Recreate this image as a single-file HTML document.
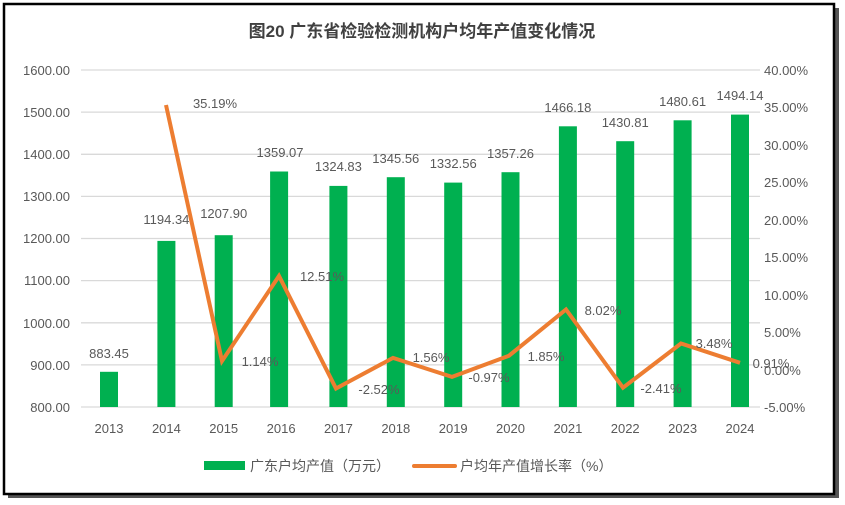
<!DOCTYPE html>
<html><head><meta charset="utf-8"><style>
body{margin:0;background:#fff;}
svg{display:block;font-family:"Liberation Sans","Noto Sans CJK SC",sans-serif;}
</style></head><body>
<svg width="845" height="505" xmlns="http://www.w3.org/2000/svg">
<rect x="0" y="0" width="845" height="505" fill="#fff"/>
<rect x="8" y="8" width="831" height="490" fill="#555"/>
<rect x="4" y="4" width="830" height="490" fill="#fff" stroke="#000" stroke-width="2.5"/>
<text x="422" y="37" font-size="17" font-weight="bold" text-anchor="middle" fill="#404040" font-family="'Liberation Sans','Noto Sans CJK SC',sans-serif">图20 广东省检验检测机构户均年产值变化情况</text>
<g stroke="#d9d9d9" stroke-width="1.3">
<line x1="81" x2="760" y1="70" y2="70"/><line x1="81" x2="760" y1="112.1" y2="112.1"/><line x1="81" x2="760" y1="154.3" y2="154.3"/><line x1="81" x2="760" y1="196.4" y2="196.4"/><line x1="81" x2="760" y1="238.5" y2="238.5"/><line x1="81" x2="760" y1="280.6" y2="280.6"/><line x1="81" x2="760" y1="322.8" y2="322.8"/><line x1="81" x2="760" y1="364.9" y2="364.9"/><line x1="81" x2="760" y1="407" y2="407"/>
</g>
<g font-size="13" fill="#595959" text-anchor="end">
<text x="70" y="75">1600.00</text><text x="70" y="117">1500.00</text><text x="70" y="159">1400.00</text><text x="70" y="201">1300.00</text><text x="70" y="243">1200.00</text><text x="70" y="285">1100.00</text><text x="70" y="328">1000.00</text><text x="70" y="370">900.00</text><text x="70" y="412">800.00</text>
</g>
<g font-size="13" fill="#595959">
<text x="764" y="75">40.00%</text><text x="764" y="112">35.00%</text><text x="764" y="150">30.00%</text><text x="764" y="187">25.00%</text><text x="764" y="225">20.00%</text><text x="764" y="262">15.00%</text><text x="764" y="300">10.00%</text><text x="764" y="337">5.00%</text><text x="764" y="375">0.00%</text><text x="764" y="412">-5.00%</text>
</g>
<g fill="#00B050">
<rect x="100" y="371.8" width="18" height="35.2"/><rect x="157.4" y="240.9" width="18" height="166.1"/><rect x="214.7" y="235.2" width="18" height="171.8"/><rect x="270.1" y="171.5" width="18" height="235.5"/><rect x="329.4" y="185.9" width="18" height="221.1"/><rect x="386.8" y="177.2" width="18" height="229.8"/><rect x="444.2" y="182.6" width="18" height="224.4"/><rect x="501.5" y="172.2" width="18" height="234.8"/><rect x="558.9" y="126.3" width="18" height="280.7"/><rect x="616.2" y="141.2" width="18" height="265.8"/><rect x="673.6" y="120.3" width="18" height="286.7"/><rect x="731" y="114.6" width="18" height="292.4"/>
</g>
<g font-size="13" fill="#595959" text-anchor="middle">
<text x="109" y="358">883.45</text><text x="166.4" y="224">1194.34</text><text x="223.7" y="218">1207.90</text><text x="280" y="157">1359.07</text><text x="338.4" y="171">1324.83</text><text x="395.8" y="163">1345.56</text><text x="453.2" y="168">1332.56</text><text x="510.5" y="158">1357.26</text><text x="567.9" y="112">1466.18</text><text x="625.2" y="127">1430.81</text><text x="682.6" y="106">1480.61</text><text x="740" y="100">1494.14</text>
</g>
<polyline fill="none" stroke="#ED7D31" stroke-width="4" stroke-linejoin="miter" points="166,105 222,361 279,276 336,388.5 393,357.9 452,376.9 509,355.7 566,309.5 623,387.7 681,343.5 740,362.8"/>
<g font-size="13" fill="#595959" text-anchor="middle">
<text x="215" y="108">35.19%</text><text x="260" y="366">1.14%</text><text x="322" y="281">12.51%</text><text x="379" y="394">-2.52%</text><text x="431" y="362">1.56%</text><text x="489" y="382">-0.97%</text><text x="546" y="361">1.85%</text><text x="603" y="315">8.02%</text><text x="661" y="393">-2.41%</text><text x="714" y="348">3.48%</text><text x="771" y="368">0.91%</text>
</g>
<g font-size="13" fill="#595959" text-anchor="middle">
<text x="109" y="433">2013</text><text x="166.4" y="433">2014</text><text x="223.7" y="433">2015</text><text x="281.1" y="433">2016</text><text x="338.4" y="433">2017</text><text x="395.8" y="433">2018</text><text x="453.2" y="433">2019</text><text x="510.5" y="433">2020</text><text x="567.9" y="433">2021</text><text x="625.2" y="433">2022</text><text x="682.6" y="433">2023</text><text x="740" y="433">2024</text>
</g>
<rect x="204" y="461" width="41" height="9" fill="#00B050"/>
<text x="250" y="471" font-size="14" fill="#595959">广东户均产值（万元）</text>
<line x1="414" x2="455" y1="466" y2="466" stroke="#ED7D31" stroke-width="4" stroke-linecap="round"/>
<text x="460" y="471" font-size="14" fill="#595959">户均年产值增长率（%）</text>
</svg>
</body></html>
